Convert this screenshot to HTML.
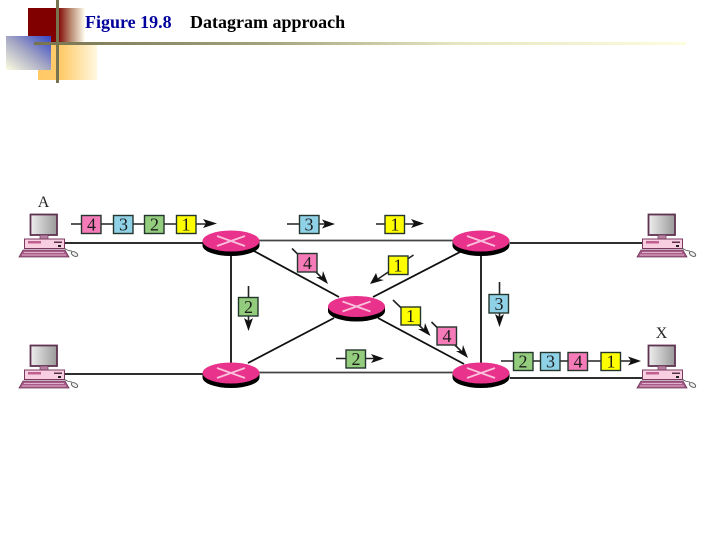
<!DOCTYPE html>
<html><head><meta charset="utf-8"><style>
html,body{margin:0;padding:0;background:#fff;width:720px;height:540px;overflow:hidden}
svg{display:block}
.t{font-family:"Liberation Serif",serif;font-weight:bold;font-size:18px}
.n{font-family:"Liberation Serif",serif;font-size:18px;text-anchor:middle;fill:#1c1c1c}
.l{font-family:"Liberation Serif",serif;font-size:16px;text-anchor:middle;fill:#222}
.k{stroke:#111;stroke-width:1.8;fill:none}
.g{stroke:#222;stroke-width:1.6;fill:none}
.b{stroke:#24352c;stroke-width:1.4}
</style></head><body>
<svg width="720" height="540" viewBox="0 0 720 540" xmlns="http://www.w3.org/2000/svg">
<defs>
<linearGradient id="red" x1="0" x2="1" y1="0" y2="0"><stop offset="0" stop-color="#800000"/><stop offset=".52" stop-color="#800000"/><stop offset=".75" stop-color="#b98a70"/><stop offset="1" stop-color="#fffff0"/></linearGradient>
<linearGradient id="ora" x1="0" x2="1" y1="0" y2="0"><stop offset="0" stop-color="#ffc966"/><stop offset=".4" stop-color="#ffcb6b"/><stop offset="1" stop-color="#fff8e0"/></linearGradient>
<linearGradient id="blu" x1="1" x2="0" y1="0" y2="1"><stop offset="0" stop-color="#3344c4"/><stop offset=".5" stop-color="#a4a6c4"/><stop offset="1" stop-color="#fcfce0"/></linearGradient>
<linearGradient id="hl" gradientUnits="userSpaceOnUse" x1="34" x2="686" y1="0" y2="0"><stop offset="0" stop-color="#77734f"/><stop offset=".35" stop-color="#a3a27a"/><stop offset=".65" stop-color="#e6e6c0"/><stop offset="1" stop-color="#fdfde0"/></linearGradient>
<linearGradient id="scr" x1="0" x2="1" y1="0" y2="0"><stop offset="0" stop-color="#eee"/><stop offset="1" stop-color="#999"/></linearGradient>
<g id="pc">
<rect x="30.500" y="214.500" width="26.500" height="20.500" fill="url(#scr)" stroke="#5f3350" stroke-width="1.800"/>
<rect x="40" y="235" width="8" height="4" fill="#b77fa0" stroke="#6b3a5a" stroke-width=".7"/>
<rect x="24.500" y="239" width="40" height="9.500" fill="#f7cfe0" stroke="#7a3a60" stroke-width="1"/>
<rect x="28" y="241" width="13" height="2.500" fill="#c0608f"/>
<rect x="54" y="241.500" width="8" height="1.500" fill="#5a3048"/>
<rect x="58" y="245" width="3" height="2" fill="#222"/>
<path d="M23 250H65L69 257H19Z" fill="#a85a88" stroke="#6b3a5a" stroke-width=".8"/>
<path d="M24 252.500H64M22 255H66" stroke="#f0d0e0" stroke-width=".7"/>
<path d="M64 248Q68 251 72 251" fill="none" stroke="#555" stroke-width=".8"/>
<ellipse cx="74.500" cy="254" rx="3.500" ry="2" transform="rotate(30 74.500 254)" fill="#eee" stroke="#555" stroke-width=".9"/>
</g>
<g id="rt">
<ellipse cx="0" cy="4.500" rx="28.500" ry="10.500" fill="#000"/>
<rect x="-28.500" y="0" width="57" height="4.500" fill="#000"/>
<ellipse cx="0" cy="0" rx="28.500" ry="10.500" fill="#e8328c"/>
<path d="M-14 -5L14 5M-14 5L14 -5" stroke="#f9c0dc" stroke-width="1.800"/>
</g>
</defs>

<rect x="28" y="8" width="57" height="34" fill="url(#red)"/>
<rect x="38" y="42" width="59" height="38" fill="url(#ora)"/>
<rect x="6" y="36" width="45" height="34" fill="url(#blu)"/>
<rect x="34" y="42" width="652" height="3" fill="url(#hl)"/>
<rect x="56" y="0" width="3" height="83" fill="#77734f"/>
<text class="t" x="85" y="28" fill="#00009c">Figure 19.8</text>
<text class="t" x="190" y="28" fill="#000">Datagram approach</text>

<!-- links -->
<g class="k">
<path d="M65 243H203"/>
<path d="M65 374H203"/>
<path d="M259 240.500H453" stroke="#444"/>
<path d="M259 372.500H453" stroke="#444"/>
<path d="M510 243H642"/>
<path d="M510 378H642"/>
<path d="M231 250V364"/>
<path d="M481 250V364"/>
<path d="M254 251L339 297"/>
<path d="M378 318L464 364"/>
<path d="M373 297L460 252"/>
<path d="M334 318L248 363"/>
</g>

<use href="#rt" x="231" y="241"/>
<use href="#rt" x="481" y="241"/>
<use href="#rt" x="356.500" y="306.500"/>
<use href="#rt" x="231" y="373"/>
<use href="#rt" x="481" y="373"/>

<use href="#pc"/>
<use href="#pc" x="618"/>
<use href="#pc" y="131"/>
<use href="#pc" x="618" y="131"/>
<text class="l" x="43.500" y="207">A</text>
<text class="l" x="661.500" y="338">X</text>

<!-- packet flow lines -->
<g class="g">
<path d="M71 224H206"/>
<path d="M287 224H325"/>
<path d="M376 224H414"/>
<path d="M501 361H631"/>
<path d="M336 358.500H374"/>
<path d="M248.500 286V322"/>
<path d="M499.500 282V318"/>
<path d="M292 248.500L322 278"/>
<path d="M413.500 255L378 279"/>
<path d="M393 300L424 330"/>
<path d="M431.500 322L462 352"/>
</g>
<!-- arrowheads -->
<g fill="#111">
<path d="M217 223.500L203 219L206 223.500L203 228Z"/>
<path d="M335 224L322 219.500L325 224L322 228.500Z"/>
<path d="M424 223.500L411 219L414 223.500L411 228Z"/>
<path d="M641 361L628 356.500L631 361L628 365.500Z"/>
<path d="M384 358.500L371 354L374 358.500L371 363Z"/>
<path d="M248.500 331L244 318L248.500 321L253 318Z"/>
<path d="M499.500 327L495 314L499.500 317L504 314Z"/>
<path d="M328 284L316 277L322 277L323 271Z"/>
<path d="M370 284L376 273L378 279L384 280Z"/>
<path d="M430.500 336L418 329L424 329L425 323Z"/>
<path d="M468 358L456 351L462 351L463 345Z"/>
</g>

<!-- packets -->
<g class="b">
<rect x="81.500" y="215.500" width="19.500" height="18" fill="#f47ab8"/>
<rect x="113.500" y="215.500" width="19.500" height="18" fill="#8fd2e8"/>
<rect x="144.500" y="215.500" width="19.500" height="18" fill="#92cc7c"/>
<rect x="176.500" y="215.500" width="19.500" height="18" fill="#ffff00"/>
<rect x="299.500" y="215.500" width="19.500" height="18" fill="#8fd2e8"/>
<rect x="385" y="215.500" width="19.500" height="18" fill="#ffff00"/>
<rect x="297.500" y="253.500" width="19.500" height="18.500" fill="#f47ab8"/>
<rect x="388.500" y="256" width="19.500" height="18.500" fill="#ffff00"/>
<rect x="401" y="307" width="19.500" height="18" fill="#ffff00"/>
<rect x="437" y="327" width="19.500" height="18" fill="#f47ab8"/>
<rect x="238.500" y="297.500" width="19.500" height="18.500" fill="#92cc7c"/>
<rect x="346" y="350" width="19.500" height="18" fill="#92cc7c"/>
<rect x="489" y="294.500" width="19.500" height="18.500" fill="#8fd2e8"/>
<rect x="513.500" y="352.500" width="19.500" height="18" fill="#92cc7c"/>
<rect x="540.500" y="352.500" width="19.500" height="18" fill="#8fd2e8"/>
<rect x="568" y="352.500" width="19.500" height="18" fill="#f47ab8"/>
<rect x="601" y="352.500" width="19.500" height="18" fill="#ffff00"/>
</g>
<g>
<text class="n" x="91.500" y="230.500">4</text>
<text class="n" x="123.500" y="230.500">3</text>
<text class="n" x="154.500" y="230.500">2</text>
<text class="n" x="186" y="230.500">1</text>
<text class="n" x="309" y="230.500">3</text>
<text class="n" x="395" y="230.500">1</text>
<text class="n" x="307.500" y="269">4</text>
<text class="n" x="398" y="271.500">1</text>
<text class="n" x="410.500" y="322">1</text>
<text class="n" x="447" y="342">4</text>
<text class="n" x="248.500" y="313">2</text>
<text class="n" x="356" y="365">2</text>
<text class="n" x="499" y="310">3</text>
<text class="n" x="523" y="367.500">2</text>
<text class="n" x="550.500" y="367.500">3</text>
<text class="n" x="578" y="367.500">4</text>
<text class="n" x="611" y="367.500">1</text>
</g>
</svg>
</body></html>
